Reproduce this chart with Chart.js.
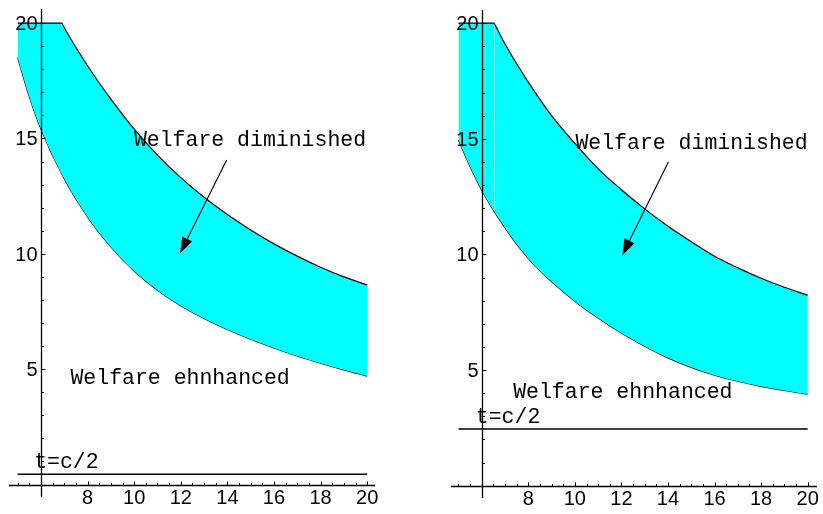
<!DOCTYPE html>
<html>
<head>
<meta charset="utf-8">
<script src="https://cdn.jsdelivr.net/npm/chart.js@4.4.1/dist/chart.umd.min.js"></script>
<style>
  html, body { margin: 0; padding: 0; background: #fff; width: 823px; height: 514px; overflow: hidden; }
  canvas { position: absolute; top: 0; }
  #left { left: 0; }
  #right { left: 411px; }
</style>
</head>
<body>
<canvas id="left" width="411" height="514"></canvas>
<canvas id="right" width="412" height="514"></canvas>
<script>
// MARK: Data
const xTicks = [8, 10, 12, 14, 16, 18, 20];
const yTicks = [5, 10, 15, 20];

// upper boundary is capped at 20 until the corner, then curves down
const leftCapX = [5, 6.9];
const leftUpperX = [6.9, 7, 8, 9, 10, 11, 12, 13, 14, 15, 16, 17, 18, 19, 20];
const leftUpperY = [20, 19.8, 18.15, 16.7, 15.4, 14.28, 13.3, 12.45, 11.7, 11.03, 10.43, 9.9, 9.42, 9.0, 8.65];
const leftLowerX = [5, 5.5, 6, 7, 8, 9, 10, 11, 12, 13, 14, 15, 16, 17, 18, 19, 20];
const leftLowerY = [18.5, 16.8, 15.4, 13.25, 11.6, 10.3, 9.25, 8.42, 7.75, 7.2, 6.72, 6.3, 5.92, 5.57, 5.26, 4.97, 4.7];
const leftHalfC = 0.45;

const rightCapX = [5, 6.54];
const rightUpperX = [6.54, 7, 8, 9, 10, 11, 12, 13, 14, 15, 16, 17, 18, 19, 20];
const rightUpperY = [20, 19.1, 17.45, 16.0, 14.8, 13.7, 12.8, 11.97, 11.22, 10.55, 9.92, 9.42, 8.97, 8.58, 8.24];
const rightLowerX = [5, 5.5, 6, 7, 8, 9, 10, 11, 12, 13, 14, 15, 16, 17, 18, 19, 20];
const rightLowerY = [14.95, 13.8, 12.78, 11.15, 9.83, 8.83, 7.98, 7.25, 6.6, 6.03, 5.53, 5.12, 4.78, 4.52, 4.3, 4.12, 3.96];
const rightHalfC = 2.45;

const capY = 20;

const labelDiminished = 'Welfare diminished';
const labelEnhanced = 'Welfare ehnhanced';
const labelHalfC = 't=c/2';

const toPoints = (xs, ys) => xs.map((x, i) => ({ x, y: ys[i] }));

// MARK: Axes drawn Mathematica style (axes cross at x=6, y=0)
const mathAxes = {
  id: 'mathAxes',
  afterDatasetsDraw(chart, args, opts) {
    const { ctx, chartArea: a, scales: { x, y } } = chart;
    const x0 = Math.round(x.getPixelForValue(6)) + 0.5;
    const y0 = Math.round(y.getPixelForValue(0)) + 0.5;
    ctx.save();
    ctx.strokeStyle = '#000';
    ctx.lineWidth = 1.3;
    ctx.beginPath();
    ctx.moveTo(x0, a.top);
    ctx.lineTo(x0, a.bottom);
    ctx.moveTo(a.left, y0);
    ctx.lineTo(a.right, y0);
    ctx.stroke();

    ctx.lineWidth = 1;
    ctx.beginPath();
    // x ticks every 0.5, longer on the labelled ones
    for (let v = 5; v <= 20.01; v += 0.5) {
      const px = Math.round(x.getPixelForValue(v)) + 0.5;
      const len = xTicks.includes(v) ? 4 : 2.5;
      ctx.moveTo(px, y0);
      ctx.lineTo(px, y0 - len);
    }
    // y ticks every 1
    for (let v = 1; v <= 20; v += 1) {
      const py = Math.round(y.getPixelForValue(v)) + 0.5;
      const len = yTicks.includes(v) ? 4 : 2.5;
      ctx.moveTo(x0, py);
      ctx.lineTo(x0 + len, py);
    }
    ctx.stroke();

    ctx.fillStyle = '#000';
    ctx.font = '20px "Liberation Sans", Arial, sans-serif';
    ctx.textAlign = 'center';
    ctx.textBaseline = 'alphabetic';
    xTicks.forEach(v => ctx.fillText(String(v), x.getPixelForValue(v), y0 + 18));
    ctx.textAlign = 'right';
    yTicks.forEach(v => ctx.fillText(String(v), x0 - 4, y.getPixelForValue(v) + 7));

    // annotations
    ctx.font = '21.5px "Liberation Mono", "Courier New", monospace';
    ctx.textAlign = 'center';
    ctx.textBaseline = 'middle';
    opts.notes.forEach(n => ctx.fillText(n.text, x.getPixelForValue(n.x), y.getPixelForValue(n.y)));

    // arrow
    const sx = x.getPixelForValue(opts.arrow.from[0]), sy = y.getPixelForValue(opts.arrow.from[1]);
    const tx = x.getPixelForValue(opts.arrow.to[0]), ty = y.getPixelForValue(opts.arrow.to[1]);
    const ang = Math.atan2(ty - sy, tx - sx);
    const headLen = 16, headW = 5.5;
    const bx = tx - headLen * Math.cos(ang), by = ty - headLen * Math.sin(ang);
    ctx.lineWidth = 1.1;
    ctx.beginPath();
    ctx.moveTo(sx, sy);
    ctx.lineTo(bx, by);
    ctx.stroke();
    ctx.beginPath();
    ctx.moveTo(tx, ty);
    ctx.lineTo(bx + headW * Math.sin(ang), by - headW * Math.cos(ang));
    ctx.lineTo(bx - headW * Math.sin(ang), by + headW * Math.cos(ang));
    ctx.closePath();
    ctx.fill();
    ctx.restore();
  }
};

// MARK: Build a panel
function makePanel(id, panel) {
  const curve = {
    borderColor: '#000',
    borderWidth: 1.2,
    backgroundColor: '#00ffff',
    pointRadius: 0,
    cubicInterpolationMode: 'monotone'
  };
  return new Chart(document.getElementById(id), {
    type: 'line',
    data: {
      datasets: [
        { ...curve, data: toPoints(panel.capX, panel.capX.map(() => capY)), fill: { target: 2 } },
        { ...curve, data: toPoints(panel.upperX, panel.upperY), fill: { target: 2 } },
        { ...curve, data: toPoints(panel.lowerX, panel.lowerY), fill: false },
        {
          data: [{ x: 5, y: panel.halfC }, { x: 20, y: panel.halfC }],
          borderColor: '#000',
          borderWidth: 1.5,
          fill: false,
          pointRadius: 0
        }
      ]
    },
    options: {
      responsive: false,
      animation: false,
      events: [],
      layout: { padding: panel.padding },
      plugins: {
        legend: { display: false },
        tooltip: { enabled: false },
        mathAxes: { notes: panel.notes, arrow: panel.arrow }
      },
      scales: {
        x: { type: 'linear', min: panel.xMin, max: panel.xMax, display: false },
        y: { type: 'linear', min: panel.yMin, max: panel.yMax, display: false }
      }
    },
    plugins: [mathAxes]
  });
}

makePanel('left', {
  capX: leftCapX,
  upperX: leftUpperX, upperY: leftUpperY,
  lowerX: leftLowerX, lowerY: leftLowerY,
  halfC: leftHalfC,
  xMin: 4.627, xMax: 20.335, yMin: -0.54, yMax: 20.61,
  padding: { left: 9, right: 36, top: 9, bottom: 17 },
  notes: [
    { text: labelDiminished, x: 14.97, y: 14.9 },
    { text: labelEnhanced, x: 11.97, y: 4.6 },
    { text: labelHalfC, x: 7.09, y: 0.95 }
  ],
  arrow: { from: [13.97, 14.07], to: [11.97, 10.02] }
});

makePanel('right', {
  capX: rightCapX,
  upperX: rightUpperX, upperY: rightUpperY,
  lowerX: rightLowerX, lowerY: rightLowerY,
  halfC: rightHalfC,
  xMin: 4.68, xMax: 20.40, yMin: -0.53, yMax: 20.57,
  padding: { left: 40, right: 6, top: 10, bottom: 16 },
  notes: [
    { text: labelDiminished, x: 15.01, y: 14.8 },
    { text: labelEnhanced, x: 12.06, y: 4.06 },
    { text: labelHalfC, x: 7.13, y: 2.94 }
  ],
  arrow: { from: [14.02, 14.01], to: [12.04, 9.97] }
});
</script>
</body>
</html>
